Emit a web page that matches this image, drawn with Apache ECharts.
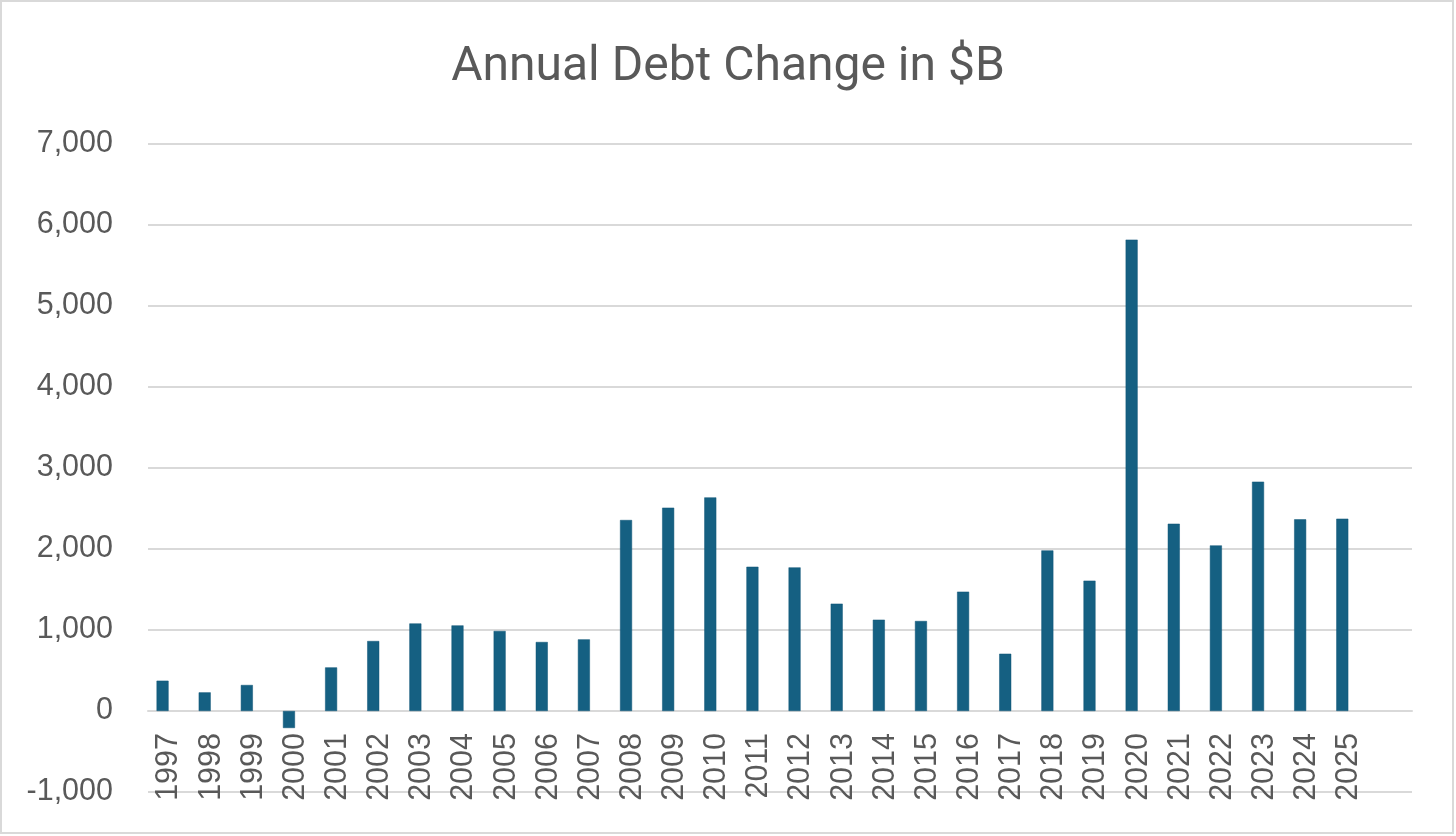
<!DOCTYPE html>
<html>
<head>
<meta charset="utf-8">
<script src="https://cdn.jsdelivr.net/npm/echarts@6/dist/echarts.min.js"></script>
<style>
html,body{margin:0;padding:0;background:#fff;}
#chart{width:1456px;height:836px;}
</style>
</head>
<body>
<div id="chart"></div>
<script>
const titleText = 'Annual Debt Change in $B';
const years = ['1997','1998','1999','2000','2001','2002','2003','2004','2005','2006',
  '2007','2008','2009','2010','2011','2012','2013','2014','2015','2016',
  '2017','2018','2019','2020','2021','2022','2023','2024','2025',''];
const debtChange = [374, 230, 321, -210, 538, 864, 1081, 1057, 988, 852,
  884, 2358, 2510, 2637, 1781, 1773, 1325, 1127, 1111, 1473,
  707, 1983, 1609, 5819, 2312, 2044, 2831, 2366, 2374, null];
const yMin = -1000, yMax = 7000, yStep = 1000;

const chart = echarts.init(document.getElementById('chart'));
const textColor = '#595959';
const gridColor = '#d9d9d9';
const labelFont = '"Liberation Sans", Arial, sans-serif';
const plotHeight = 648;
// x axis sits on the zero line: distance from bottom (-1000) to 0 in pixels
const zeroOffset = -plotHeight * (0 - yMin) / (yMax - yMin);

chart.setOption({
  backgroundColor: '#ffffff',
  animation: false,
  title: {
    text: titleText,
    left: 'center',
    top: 39,
    textStyle: { fontFamily: 'Roboto, sans-serif', fontSize: 48, fontWeight: 'normal', color: textColor }
  },
  graphic: [{
    type: 'rect',
    shape: { x: 1, y: 1, width: 1452, height: 832 },
    style: { fill: 'none', stroke: gridColor, lineWidth: 2 },
    silent: true
  }],
  grid: [
    { left: 148, width: 1264, top: 144, height: plotHeight, containLabel: false, outerBoundsMode: 'none' },
    { left: 141.5, width: 1264, top: 144, height: plotHeight, containLabel: false, outerBoundsMode: 'none' }
  ],
  xAxis: [{
    type: 'category',
    gridIndex: 0,
    data: years,
    boundaryGap: true,
    position: 'bottom',
    offset: zeroOffset,
    axisLine: { onZero: false, lineStyle: { color: gridColor, width: 2 } },
    axisTick: { show: false },
    axisLabel: {
      rotate: 90, margin: 22, interval: 0,
      color: textColor, fontSize: 30.5, fontFamily: labelFont
    },
    splitLine: { show: false }
  }, {
    type: 'category',
    gridIndex: 1,
    data: years,
    boundaryGap: true,
    show: false
  }],
  yAxis: [{
    type: 'value',
    gridIndex: 0,
    min: yMin, max: yMax, interval: yStep,
    axisLine: { show: false },
    axisTick: { show: false },
    axisLabel: {
      margin: 35, color: textColor, fontSize: 30.5, fontFamily: labelFont,
      formatter: v => v.toLocaleString('en-US')
    },
    splitLine: { lineStyle: { color: gridColor, width: 2 } }
  }, {
    type: 'value',
    gridIndex: 1,
    min: yMin, max: yMax, interval: yStep,
    show: false,
    splitLine: { show: false }
  }],
  series: [{
    type: 'bar',
    xAxisIndex: 1,
    yAxisIndex: 1,
    data: debtChange,
    barWidth: 12,
    itemStyle: { color: '#156082', borderColor: '#0f5576', borderWidth: 0.5 }
  }]
});
</script>
</body>
</html>
